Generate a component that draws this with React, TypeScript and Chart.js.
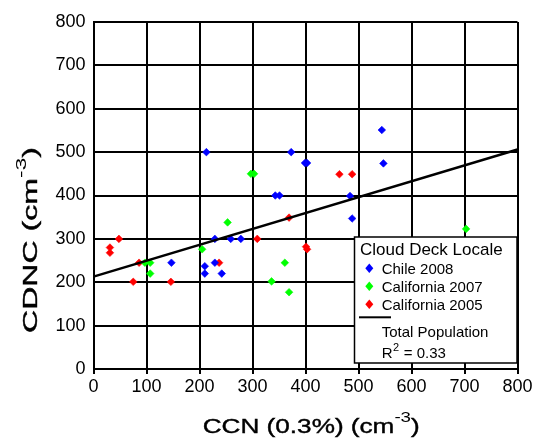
import { useEffect, useRef } from 'react';
import { Chart, registerables } from 'chart.js';

Chart.register(...registerables);

// ---- data ----
const chile2008X = [213, 373, 399, 403, 343, 351, 229, 259, 278, 147, 210, 210, 229, 242, 544, 547, 484, 488];
const chile2008Y = [500, 500, 475, 475, 400, 400, 300, 300, 300, 245, 237, 220, 245, 220, 551, 474, 399, 347];

const california2007X = [297, 303, 253, 205, 97, 107, 107, 361, 336, 369, 703];
const california2007Y = [450, 450, 338, 276, 245, 245, 220, 245, 202, 177, 323];

const california2005X = [369, 309, 401, 403, 48, 31, 31, 86, 237, 75, 146, 464, 488];
const california2005Y = [349, 300, 282, 276, 300, 280, 268, 245, 245, 201, 201, 449, 449];

const fitX = [0, 800];
const fitY = [213, 506];

const seriesNames = ['Chile 2008', 'California 2007', 'California 2005'];
const seriesColors = ['#0000ff', '#00ff00', '#ff0000'];
const legendTitle = 'Cloud Deck Locale';
const fitName = 'Total Population';
const fitStat = ['R', '2', ' = 0.33'];
const xTitle = ['CCN (0.3%) (cm', '-3', ')'];
const yTitle = ['CDNC (cm', '-3', ')'];
const axisMin = 0;
const axisMax = 800;
const axisStep = 100;

const FONT = '"Liberation Sans", Arial, Helvetica, sans-serif';

function pts(xs: number[], ys: number[]) {
  return xs.map((x, i) => ({ x, y: ys[i] }));
}

function drawSupText(
  ctx: CanvasRenderingContext2D,
  x: number,
  y: number,
  parts: string[],
  mainSize: number,
  supSize: number,
  raise: number,
  targetWidth: number,
  rotate: boolean
) {
  ctx.save();
  ctx.translate(x, y);
  if (rotate) ctx.rotate(-Math.PI / 2);
  const mainFont = `${mainSize}px ${FONT}`;
  const supFont = `${supSize}px ${FONT}`;
  ctx.font = mainFont;
  const w1 = ctx.measureText(parts[0]).width;
  const w3 = ctx.measureText(parts[2]).width;
  ctx.font = supFont;
  const w2 = ctx.measureText(parts[1]).width;
  const total = w1 + w2 + w3;
  const s = targetWidth > 0 ? targetWidth / total : 1;
  ctx.scale(s, 1);
  ctx.textAlign = 'left';
  ctx.textBaseline = 'alphabetic';
  ctx.fillStyle = '#000';
  ctx.strokeStyle = '#000';
  ctx.lineWidth = 0.4;
  ctx.font = mainFont;
  ctx.fillText(parts[0], 0, 0);
  ctx.strokeText(parts[0], 0, 0);
  ctx.font = supFont;
  ctx.fillText(parts[1], w1, -raise);
  ctx.font = mainFont;
  ctx.fillText(parts[2], w1 + w2, 0);
  ctx.strokeText(parts[2], w1 + w2, 0);
  ctx.restore();
}

function diamond(ctx: CanvasRenderingContext2D, cx: number, cy: number, rx: number, ry: number, color: string) {
  ctx.beginPath();
  ctx.moveTo(cx, cy - ry);
  ctx.lineTo(cx + rx, cy);
  ctx.lineTo(cx, cy + ry);
  ctx.lineTo(cx - rx, cy);
  ctx.closePath();
  ctx.fillStyle = color;
  ctx.fill();
}

const decorPlugin = {
  id: 'decor',
  afterDraw(chart: any) {
    const ctx: CanvasRenderingContext2D = chart.ctx;
    // axis titles
    drawSupText(ctx, 202.7, 433.3, xTitle, 21, 15, 11, 217, false);
    drawSupText(ctx, 37, 333, yTitle, 21, 15, 11, 186, true);

    // legend box
    const bx = 354.5, by = 237, bw = 162.5, bh = 126;
    ctx.save();
    ctx.fillStyle = '#fff';
    ctx.fillRect(bx, by, bw, bh);
    ctx.strokeStyle = '#000';
    ctx.lineWidth = 1.5;
    ctx.strokeRect(bx, by, bw, bh);

    ctx.fillStyle = '#000';
    ctx.textAlign = 'left';
    ctx.textBaseline = 'alphabetic';
    ctx.font = `17px ${FONT}`;
    ctx.fillText(legendTitle, 360, 255);

    const rowY = [268.3, 286.3, 304.3];
    ctx.font = `15px ${FONT}`;
    seriesNames.forEach((name, i) => {
      diamond(ctx, 369.3, rowY[i], 4, 4.8, seriesColors[i]);
      ctx.fillStyle = '#000';
      ctx.fillText(name, 381.7, rowY[i] + 5.2);
    });

    ctx.beginPath();
    ctx.moveTo(359, 317.3);
    ctx.lineTo(391, 317.3);
    ctx.lineWidth = 2;
    ctx.strokeStyle = '#000';
    ctx.stroke();

    ctx.fillStyle = '#000';
    ctx.font = `15px ${FONT}`;
    ctx.fillText(fitName, 381.7, 337.3);
    const wR = ctx.measureText(fitStat[0]).width;
    ctx.fillText(fitStat[0], 381.7, 358);
    ctx.font = `11px ${FONT}`;
    const w2 = ctx.measureText(fitStat[1]).width;
    ctx.fillText(fitStat[1], 381.7 + wR + 0.5, 350.5);
    ctx.font = `15px ${FONT}`;
    ctx.fillText(fitStat[2], 381.7 + wR + w2 + 1, 358);
    ctx.restore();
  },
};

export default function App() {
  const ref = useRef<HTMLCanvasElement | null>(null);

  useEffect(() => {
    if (!ref.current) return;
    const tickFont = { family: FONT, size: 18 };
    const chart = new Chart(ref.current, {
      type: 'scatter',
      data: {
        datasets: [
          {
            label: fitName,
            data: pts(fitX, fitY),
            showLine: true,
            borderColor: '#000',
            borderWidth: 2.5,
            pointRadius: 0,
            fill: false,
          },
          {
            label: seriesNames[0],
            data: pts(chile2008X, chile2008Y),
            pointStyle: 'rectRot',
            pointRadius: 3.8,
            pointBorderWidth: 0.6,
            backgroundColor: seriesColors[0],
            borderColor: seriesColors[0],
          },
          {
            label: seriesNames[1],
            data: pts(california2007X, california2007Y),
            pointStyle: 'rectRot',
            pointRadius: 3.8,
            pointBorderWidth: 0.6,
            backgroundColor: seriesColors[1],
            borderColor: seriesColors[1],
          },
          {
            label: seriesNames[2],
            data: pts(california2005X, california2005Y),
            pointStyle: 'rectRot',
            pointRadius: 3.8,
            pointBorderWidth: 0.6,
            backgroundColor: seriesColors[2],
            borderColor: seriesColors[2],
          },
        ],
      },
      options: {
        responsive: false,
        animation: false,
        devicePixelRatio: 1,
        layout: { padding: { left: 0, right: 18.5, top: 22, bottom: 0 } },
        plugins: {
          legend: { display: false },
          tooltip: { enabled: false },
        },
        scales: {
          x: {
            type: 'linear',
            min: axisMin,
            max: axisMax,
            ticks: { stepSize: axisStep, color: '#000', font: tickFont, padding: 2, maxRotation: 0 },
            grid: { color: '#000', lineWidth: 2, tickLength: 5, tickColor: '#000' },
            border: { display: true, color: '#000', width: 2 },
            afterFit: (s: any) => {
              s.height = 70;
            },
          },
          y: {
            type: 'linear',
            min: axisMin,
            max: axisMax,
            ticks: { stepSize: axisStep, color: '#000', font: tickFont, padding: 8 },
            grid: { color: '#000', lineWidth: 2, drawTicks: false },
            border: { display: true, color: '#000', width: 2 },
            afterFit: (s: any) => {
              s.width = 93.5;
            },
          },
        },
      } as any,
      plugins: [decorPlugin],
    });
    return () => chart.destroy();
  }, []);

  return (
    <div style={{ position: 'absolute', left: 0, top: 0, width: 536, height: 439, background: '#fff' }}>
      <canvas ref={ref} width={536} height={439} style={{ width: 536, height: 439, display: 'block' }} />
    </div>
  );
}
